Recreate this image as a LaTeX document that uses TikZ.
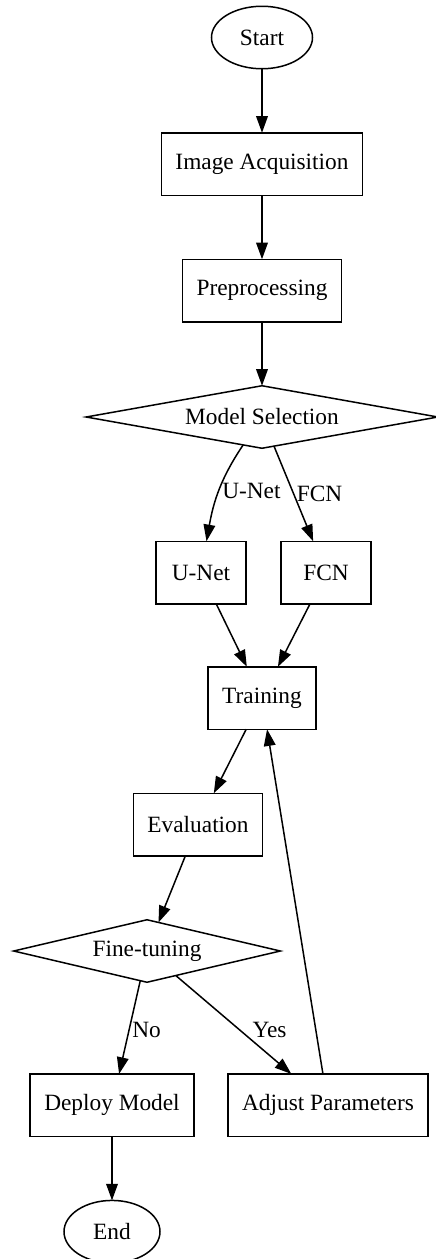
\documentclass[tikz,border=0pt]{standalone}
\usepackage{fontspec}
\setmainfont{Liberation Serif}
\usetikzlibrary{arrows.meta, positioning, shapes.geometric}

\begin{document}
\begin{tikzpicture}[
    >={Triangle[length=10pt, width=7pt]},
    line width=0.9pt,
    term/.style={draw, ellipse, minimum width=57.6pt, minimum height=37.5pt, inner sep=1pt, outer sep=0pt, font=\fontsize{14}{16}\selectfont},
    proc/.style={draw, rectangle, minimum width=54pt, minimum height=37.5pt, inner xsep=8.5pt, outer sep=0pt, font=\fontsize{14}{16}\selectfont},
    dec/.style={draw, diamond, aspect=5, minimum height=37.5pt, inner sep=0pt, outer sep=0pt, font=\fontsize{14}{16}\selectfont},
    lbl/.style={font=\fontsize{14}{16}\selectfont, inner sep=1.5pt},
]
\useasboundingbox (0,0) rectangle (261.6pt,-755.4pt);

% === PIPELINE ===
\node[term, minimum width=60.6pt] (start) at (157.2pt,-22.5pt) {Start};
\node[proc, below=38.4pt of start] (acq) {Image Acquisition};
\node[proc, below=38.4pt of acq] (prep) {Preprocessing};
\node[dec, below=38.4pt of prep, minimum width=211pt] (sel) {Model Selection};

% === MODELS ===
\node[proc, below=55.8pt of sel, xshift=-36.6pt] (unet) {U-Net};
\node[proc, below=55.8pt of sel, xshift=38.4pt] (fcn) {FCN};
\node[proc, below=37.8pt of unet, xshift=36.6pt] (train) {Training};
\node[proc, below=38.4pt of train, xshift=-38.4pt] (eval) {Evaluation};
\node[dec, below=38.4pt of eval, xshift=-30.6pt, minimum width=160pt] (fine) {Fine-tuning};

% === OUTCOMES ===
\node[proc, below=55pt of fine, xshift=-21pt] (deploy) {Deploy Model};
\node[proc, below=55pt of fine, xshift=108.6pt] (adjust) {Adjust Parameters};
\node[term, below=38.4pt of deploy] (end) {End};

% Arrows along the pipeline
\draw[->] (start) -- (acq);
\draw[->] (acq) -- (prep);
\draw[->] (prep) -- (sel);
\draw[->] (sel) to[out=-124, in=80] node[lbl, pos=0.5, right] {U-Net} (unet);
\draw[->] (sel) -- node[lbl, pos=0.5, right] {FCN} (fcn);
\draw[->] (unet) -- (train);
\draw[->] (fcn) -- (train);
\draw[->] (train) -- (eval);
\draw[->] (eval) -- (fine);

% Decision and loop back
\draw[->] (fine) -- node[lbl, pos=0.53, right] {No} (deploy);
\draw[->] (fine) -- node[lbl, pos=0.55, right=6pt] {Yes} (adjust);
\draw[->] (adjust) -- (train);
\draw[->] (deploy) -- (end);

\end{tikzpicture}
\end{document}
